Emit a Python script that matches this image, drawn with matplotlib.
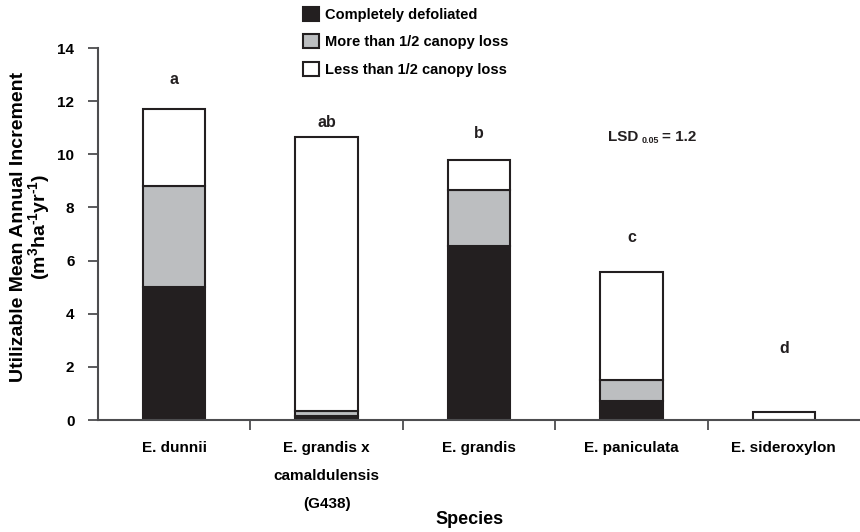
import matplotlib
matplotlib.use("Agg")
import matplotlib.pyplot as plt
import numpy as np

plt.rcParams['font.family'] = ['Liberation Sans', 'DejaVu Sans']
plt.rcParams['font.weight'] = 'bold'
plt.rcParams['mathtext.fontset'] = 'custom'
plt.rcParams['mathtext.rm'] = 'Liberation Sans:bold'
plt.rcParams['mathtext.it'] = 'Liberation Sans:bold'
plt.rcParams['mathtext.bf'] = 'Liberation Sans:bold'

# data
species = ["E. dunnii", "E. grandis x\ncamaldulensis\n(G438)", "E. grandis",
           "E. paniculata", "E. sideroxylon"]
defoliated = [5.0, 0.15, 6.55, 0.72, 0.0]
more_half = [3.8, 0.2, 2.1, 0.78, 0.0]
less_half = [2.9, 10.3, 1.15, 4.07, 0.3]
letters = ["a", "ab", "b", "c", "d"]
letter_y = [12.83, 11.2, 10.8, 6.85, 2.7]

dark = "#231f20"
grey = "#bcbec0"
axis_col = "#4d4d4f"

fig = plt.figure(figsize=(8.6, 5.32), dpi=100)
ax = fig.add_axes([98 / 860, 112 / 532, 762 / 860, 372 / 532])

x = np.arange(len(species))
w = 0.41
b1 = np.array(defoliated)
b2 = b1 + np.array(more_half)
ax.bar(x, defoliated, w, color=dark, edgecolor=dark, linewidth=1.5,
       label="Completely defoliated")
ax.bar(x, more_half, w, bottom=b1, color=grey, edgecolor=dark, linewidth=1.5,
       label="More than 1/2 canopy loss")
ax.bar(x, less_half, w, bottom=b2, color="white", edgecolor=dark, linewidth=1.5,
       label="Less than 1/2 canopy loss")

for xi, t, yy in zip(x, letters, letter_y):
    ax.text(xi, yy, t, ha="center", va="center", fontsize=11.5, fontweight="bold",
            color=dark)

# LSD note, built in pieces so the subscript stays small
ax.text(2.846, 10.5, "LSD", ha="left", va="baseline", fontsize=11,
        fontweight="bold", color=dark)
ax.text(3.069, 10.42, "0.05", ha="left", va="baseline", fontsize=6.5,
        fontweight="bold", color=dark)
ax.text(3.200, 10.5, "= 1.2", ha="left", va="baseline", fontsize=11,
        fontweight="bold", color=dark)

ax.set_xlim(-0.5, 4.5)
ax.set_ylim(0, 14)
ax.set_yticks(np.arange(0, 15, 2))
ax.set_xticks(x)
ax.set_xticklabels(species, fontsize=11, fontweight="bold", linespacing=2.3,
                   va="top")
ax.set_xticks(np.arange(0.5, 4.5, 1), minor=True)
ax.tick_params(axis="x", which="major", length=0, pad=15)
ax.tick_params(axis="x", which="minor", length=7, width=1.3, color=axis_col,
               direction="out")
ax.tick_params(axis="y", length=7, width=1.3, color=axis_col, labelsize=11,
               pad=10)
for lab in ax.get_yticklabels():
    lab.set_fontweight("bold")

for s in ["top", "right"]:
    ax.spines[s].set_visible(False)
for s in ["left", "bottom"]:
    ax.spines[s].set_color(axis_col)
    ax.spines[s].set_linewidth(1.5)

ax.set_ylabel("Utilizable Mean Annual Increment\n"
              + r"(m$^{3}$ha$^{\text{-}1}$yr$^{\text{-}1}$)",
              fontsize=14, fontweight="bold", linespacing=0.95)
ax.yaxis.set_label_coords(-46 / 762, 0.52)
fig.text(470 / 860, 12 / 532, "Species", ha="center", va="center",
         fontsize=13, fontweight="bold")

fig.legend(loc="upper left", bbox_to_anchor=(290 / 860, 1 + 6 / 532),
           frameon=False, fontsize=10.5, handlelength=1.1, handleheight=1.1,
           handletextpad=0.4, labelspacing=0.85)

fig.savefig("out.png", dpi=100)
